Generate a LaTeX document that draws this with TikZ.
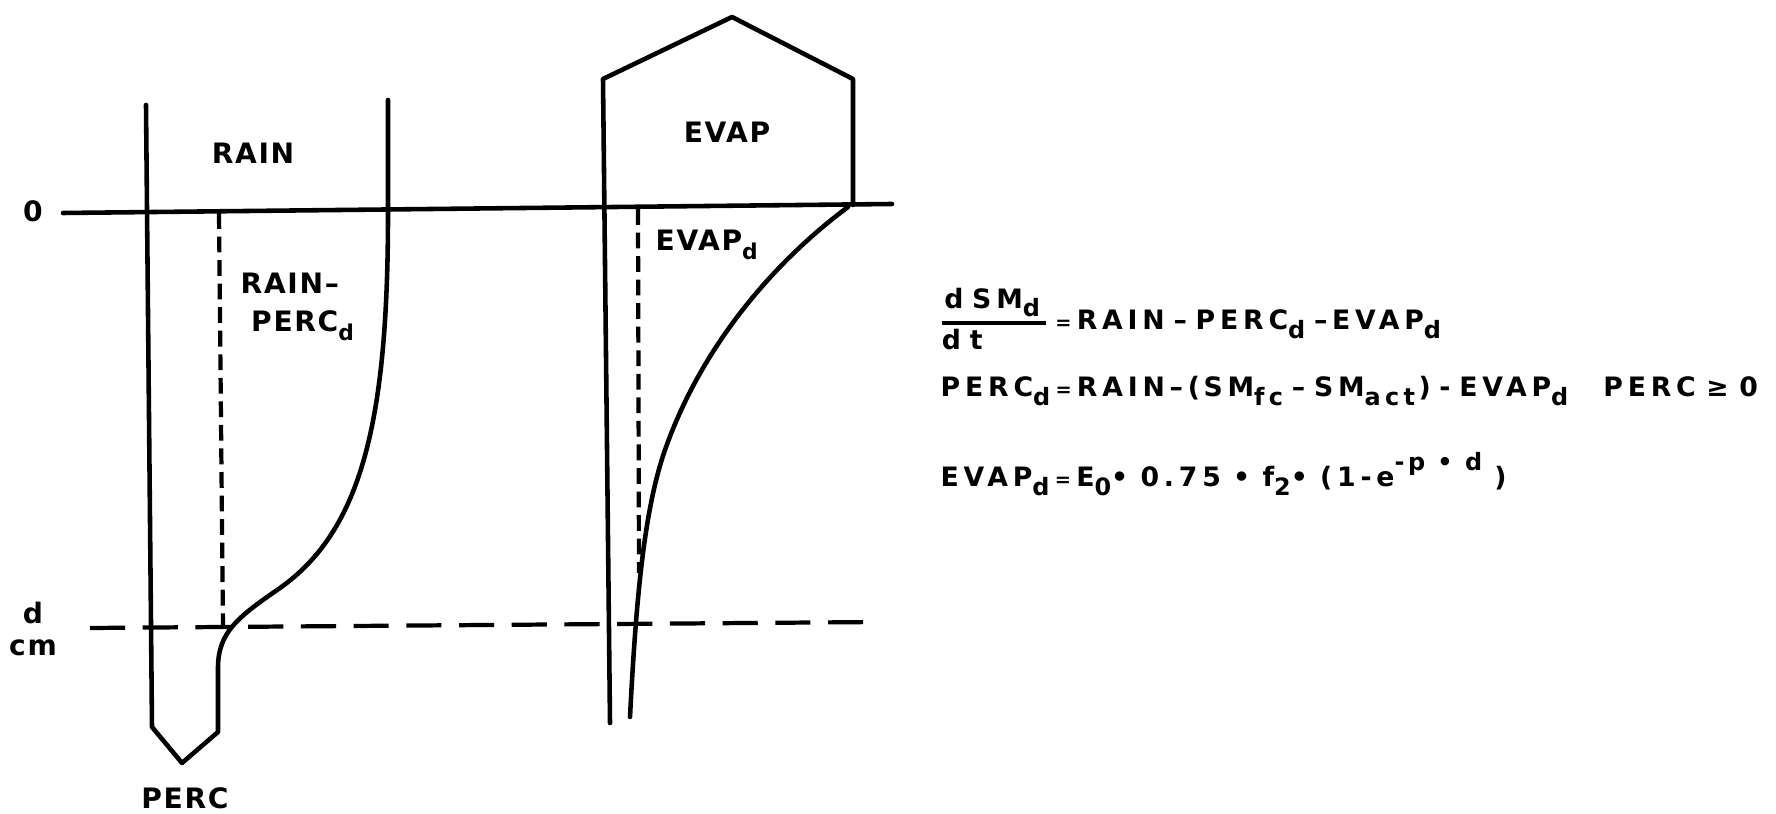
\documentclass[tikz,border=0pt]{standalone}
\usepackage{fontspec}
\setmainfont{DejaVu Sans}
\newfontfamily\diagfam{DejaVu Sans}[LetterSpace=6]
\newfontfamily\eqnfam{DejaVu Sans}[LetterSpace=18]
\usetikzlibrary{positioning}
\newcommand\subsz{6}
\newcommand\lblfont{\diagfam\bfseries\fontsize{8}{10}\selectfont\renewcommand\subsz{6.2}}
\newcommand\eqfont{\eqnfam\bfseries\fontsize{7.6}{9}\selectfont\renewcommand\subsz{6.8}}
\newcommand\lsub[1]{\raisebox{-0.55ex}{\fontsize{\subsz}{7}\selectfont #1}}
\newcommand\lsup[1]{\raisebox{1.1ex}{\fontsize{\subsz}{7}\selectfont #1}}
\newcommand\eqsign{\hspace{1.5pt}{\fontsize{5.5}{6}\selectfont=}\hspace{1.5pt}}
\newcommand\gp{\hspace{2.5pt}}
\newcommand\gpp{\hspace{3.5pt}}
\tikzset{
    wall/.style={line width=1.3pt, line join=round, line cap=round},
    dashv/.style={line width=1.2pt, dash pattern=on 4.5pt off 2.2pt},
    dashh/.style={line width=1.2pt, dash pattern=on 10pt off 5pt},
    lbl/.style={font=\lblfont, inner sep=0pt},
    eqn/.style={font=\eqfont, inner sep=0pt, anchor=base west},
}

\begin{document}
\begin{tikzpicture}[x=0.1mm, y=-0.1mm]
    \useasboundingbox (0,0) rectangle (1776,814);

    % depth axis
    \node[lbl] (zero) at (33,211) {0};
    \node[lbl] (dd) at (33,613) {d};
    \node[lbl, below=1.4mm of dd] (cm) {cm};
    \draw[wall] (63,213) -- (892,204);
    \draw[dashh] (90,628) -- (880,622);

    % rain column
    \draw[wall] (388,100) -- (388,213)
        .. controls (388,420) and (362,530) .. (280,588)
        .. controls (238,617) and (218,632) .. (218,668)
        -- (218,732) -- (182,763) -- (152,727) -- (146,105);
    \draw[dashv] (219,213) -- (223,628);
    \node[lbl] (rain) at (253,153) {RAIN};
    \node[lbl, align=left, anchor=north west] (rainperc) at (240,272) {RAIN–\\[1pt]\hspace*{3pt}PERC\lsub{d}};
    \node[lbl] (perc) at (185,798) {PERC};

    % evaporation column
    \draw[wall] (610,723) -- (603,79) -- (732,17) -- (853,79) -- (853,205);
    \draw[wall] (848,207) .. controls (770,265) and (700,350) .. (665,450)
        .. controls (644,510) and (636,600) .. (630,717);
    \draw[dashv] (638,209) -- (639,573);
    \node[lbl] (evap) at (727,132) {EVAP};
    \node[lbl, anchor=west] (evapd) at (655,245) {EVAP\lsub{d}};

    % equations
    \node[eqn] (eqsm) at (937,330)
        {$\displaystyle\hbox{d\gp SM\lsub{d}\hspace{1pt}}\above1.2pt\hbox{d\gp t\hspace{18pt}}$\eqsign RAIN\gp–\gp PERC\lsub{d}\gp –EVAP\lsub{d}};
    \node[eqn] (eqperc) at (940,397)
        {PERC\lsub{d}\eqsign RAIN–(\hspace{1pt}SM\lsub{fc}\gp –\gp SM\lsub{act}\hspace{1pt})\hspace{2.5pt}-\hspace{2.5pt}EVAP\lsub{d}\hspace{10pt}PERC\hspace{3pt}≥\hspace{3pt}0};
    \node[eqn] (eqevap) at (940,487)
        {EVAP\lsub{d}\eqsign E\lsub{0}•\gpp 0.75\gpp •\gpp f\lsub{2}•\gpp (1-e\lsup{-\hspace{1pt}p\gpp •\gpp d}\gpp )};
\end{tikzpicture}
\end{document}
